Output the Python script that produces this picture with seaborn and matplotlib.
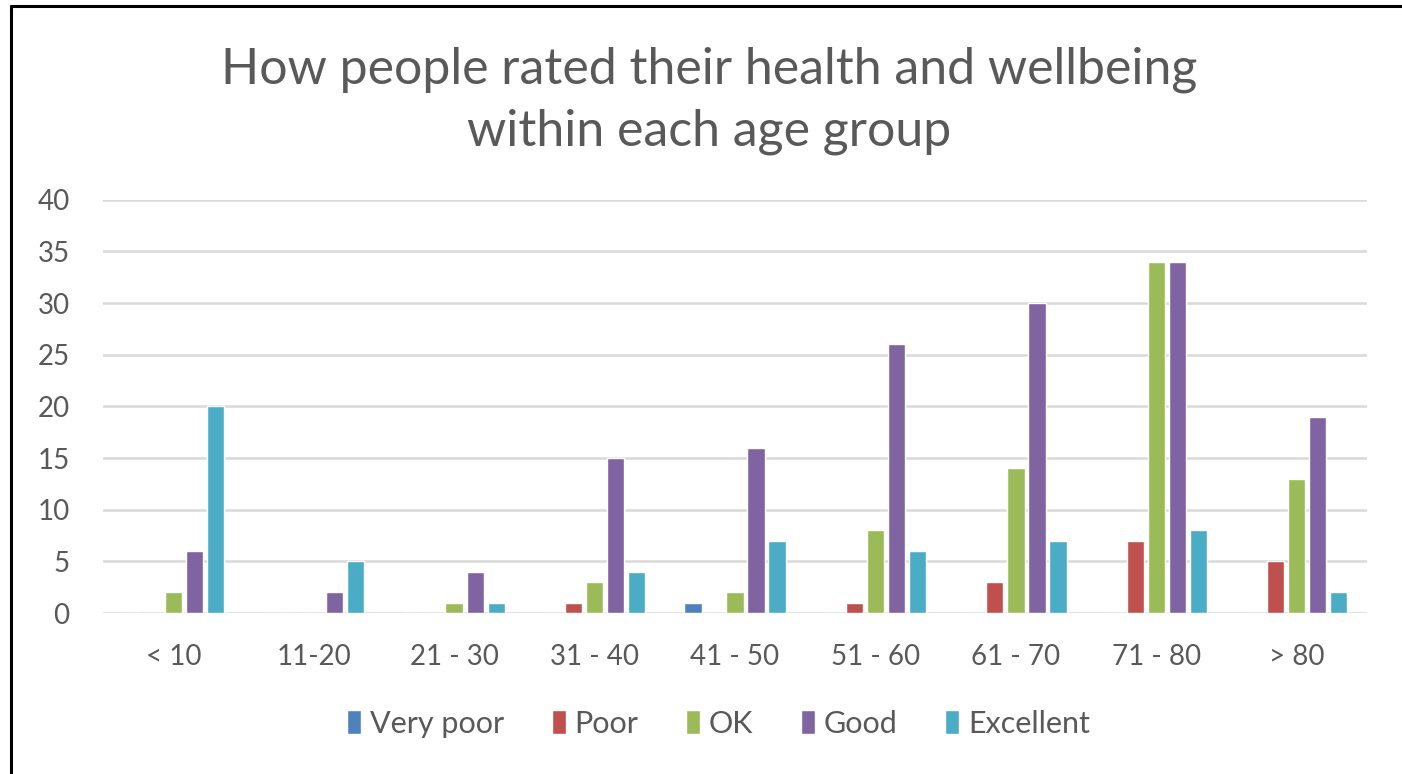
import matplotlib.pyplot as plt
from matplotlib.lines import Line2D
import pandas as pd
import seaborn as sns

age_groups = ['< 10', '11-20', '21 - 30', '31 - 40', '41 - 50',
              '51 - 60', '61 - 70', '71 - 80', '> 80']
ratings = ['Very poor', 'Poor', 'OK', 'Good', 'Excellent']

very_poor = [0, 0, 0, 0, 1, 0, 0, 0, 0]
poor = [0, 0, 0, 1, 0, 1, 3, 7, 5]
ok = [2, 0, 1, 3, 2, 8, 14, 34, 13]
good = [6, 2, 4, 15, 16, 26, 30, 34, 19]
excellent = [20, 5, 1, 4, 7, 6, 7, 8, 2]

colors = ['#4F81BD', '#C0504D', '#9BBB59', '#8064A2', '#4BACC6']

# long format for seaborn
rows = []
for rating, vals in zip(ratings, [very_poor, poor, ok, good, excellent]):
    for age, v in zip(age_groups, vals):
        rows.append({'Age': age, 'Rating': rating, 'Count': v})
df = pd.DataFrame(rows)

sns.set_style('white')
plt.rcParams['font.family'] = ['Lato', 'DejaVu Sans']
text_color = '#595959'

fig = plt.figure(figsize=(14.02, 7.74), dpi=100)
ax = fig.add_axes([0.0735, 0.208, 0.9015, 0.534])

sns.barplot(data=df, x='Age', y='Count', hue='Rating', order=age_groups,
            hue_order=ratings, palette=colors, width=0.75, gap=0.18,
            saturation=1, ax=ax, legend=True)

ax.set_ylim(0, 40)
ax.set_yticks(range(0, 41, 5))
ax.set_xlim(-0.5, len(age_groups) - 0.5)
ax.yaxis.grid(True, color='#D9D9D9', linewidth=1.8)
ax.set_axisbelow(True)
for s in ax.spines.values():
    s.set_visible(False)
ax.set_xlabel('')
ax.set_ylabel('')
ax.tick_params(axis='both', length=0, labelsize=20, colors=text_color)
ax.tick_params(axis='x', pad=22)
ax.tick_params(axis='y', pad=24)

ax.legend(loc='center', bbox_to_anchor=(0.487, -0.268), ncol=5, frameon=False,
          fontsize=22, handlelength=0.45, handleheight=0.8, handletextpad=0.3,
          columnspacing=1.55, labelcolor=text_color)

fig.text(0.506, 0.91, 'How people rated their health and wellbeing',
         ha='center', va='center', fontsize=36, color=text_color)
fig.text(0.506, 0.83, 'within each age group',
         ha='center', va='center', fontsize=36, color=text_color)

# outer chart frame (left and top edges only, the rest is cropped)
fig.lines.append(Line2D([0.0078, 0.0078], [0, 0.992], transform=fig.transFigure,
                        color='black', linewidth=2.2))
fig.lines.append(Line2D([0.0078, 1.0], [0.992, 0.992], transform=fig.transFigure,
                        color='black', linewidth=2.2))

fig.savefig('out.png', dpi=100)
